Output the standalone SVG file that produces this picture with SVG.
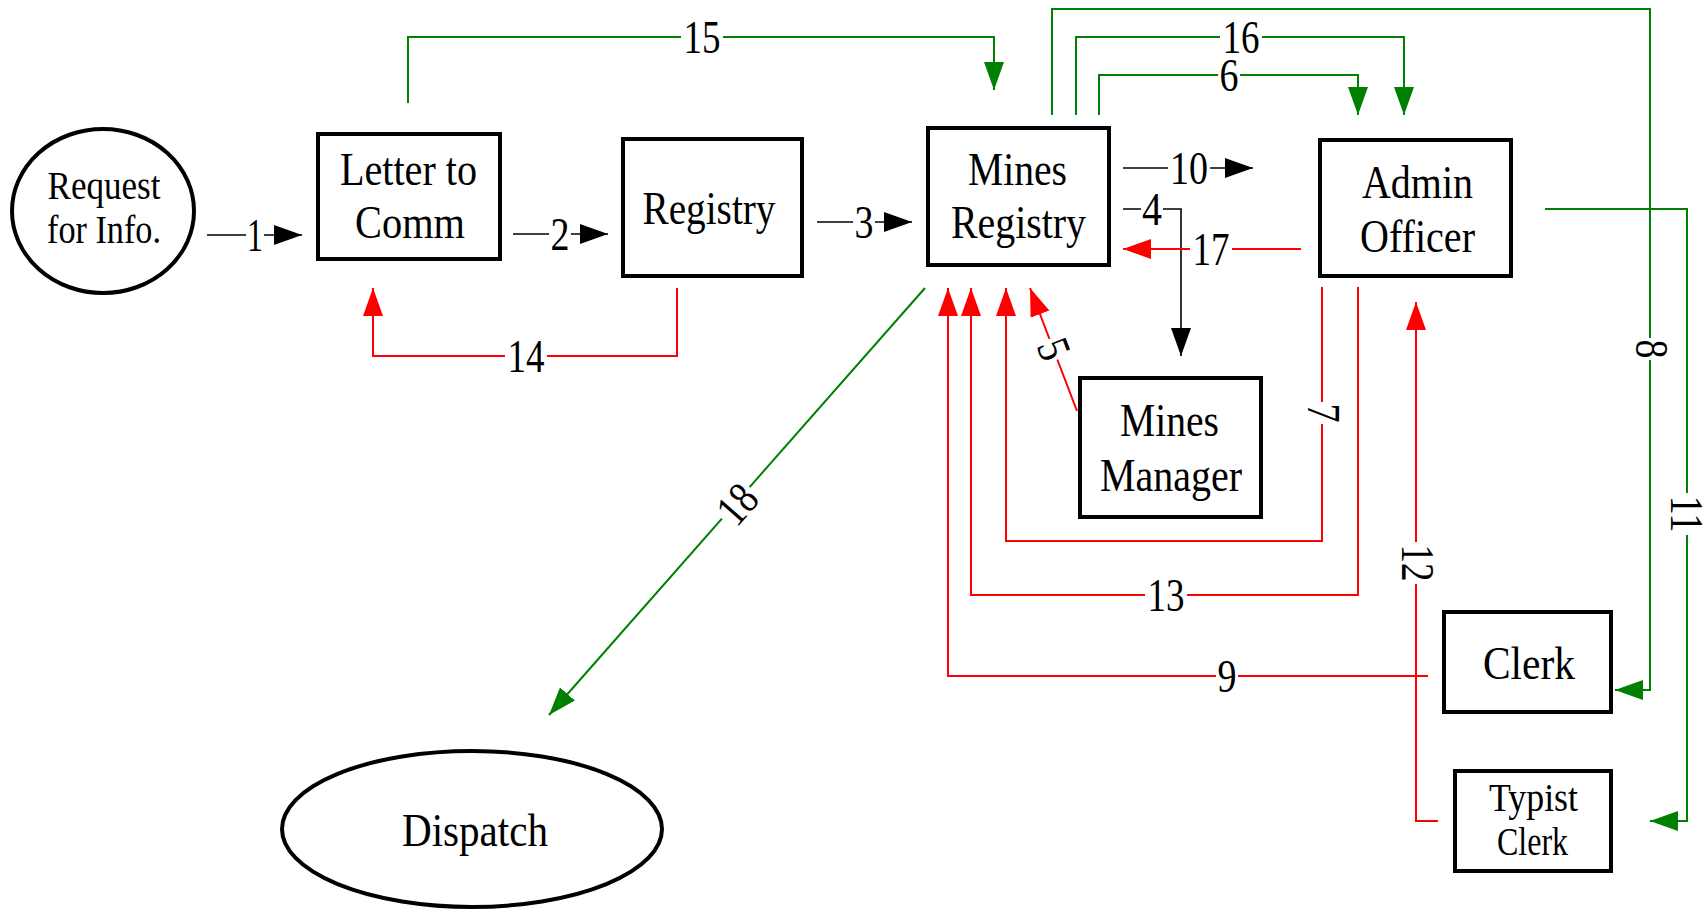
<svg xmlns="http://www.w3.org/2000/svg" width="1705" height="913" viewBox="0 0 1705 913">
  <style>
    .box { fill: #fff; stroke: #000; stroke-width: 4; }
    .t { font-family: "Liberation Serif", "Times New Roman", serif; font-size: 47px; fill: #000; text-anchor: middle; }
    .ts { font-size: 39px; }
    .tm { font-size: 41px; }
    .blk { fill: none; stroke: #000; stroke-width: 1.6; }
    .red { fill: none; stroke: #ff0000; stroke-width: 2; }
    .grn { fill: none; stroke: #008000; stroke-width: 2; }
    .lbl rect { fill: #fff; }
    .lbl text { font-family: "Liberation Serif", "Times New Roman", serif; font-size: 46px; fill: #000; text-anchor: middle; }
  </style>
  <defs>
    <marker id="ab" markerUnits="userSpaceOnUse" markerWidth="30" markerHeight="24" viewBox="0 -12 30 24" refX="28" refY="0" orient="auto">
      <path d="M0,-10 L28,0 L0,10 z" fill="#000"/>
    </marker>
    <marker id="ar" markerUnits="userSpaceOnUse" markerWidth="30" markerHeight="24" viewBox="0 -12 30 24" refX="28" refY="0" orient="auto">
      <path d="M0,-10 L28,0 L0,10 z" fill="#ff0000"/>
    </marker>
    <marker id="ag" markerUnits="userSpaceOnUse" markerWidth="30" markerHeight="24" viewBox="0 -12 30 24" refX="28" refY="0" orient="auto">
      <path d="M0,-10 L28,0 L0,10 z" fill="#008000"/>
    </marker>
  </defs>

  <rect width="1705" height="913" fill="#fff"/>

  <!-- connectors -->
  <g id="connectors">
    <!-- black flows -->
    <path class="blk" d="M207,235 H302" marker-end="url(#ab)"/>
    <path class="blk" d="M513,234 H608" marker-end="url(#ab)"/>
    <path class="blk" d="M817,222 H912" marker-end="url(#ab)"/>
    <path class="blk" d="M1123,168 H1253" marker-end="url(#ab)"/>
    <path class="blk" d="M1123,209 H1181 V356" marker-end="url(#ab)"/>

    <!-- green flows -->
    <path class="grn" d="M408,103 V37 H994 V90" marker-end="url(#ag)"/>
    <path class="grn" d="M1076,115 V37 H1404 V115" marker-end="url(#ag)"/>
    <path class="grn" d="M1099,115 V75 H1358 V115" marker-end="url(#ag)"/>
    <path class="grn" d="M1052,115 V9 H1650 V690 H1615" marker-end="url(#ag)"/>
    <path class="grn" d="M1545,209 H1687 V821 H1650" marker-end="url(#ag)"/>
    <path class="grn" d="M925,288 L549,715" marker-end="url(#ag)"/>

    <!-- red flows -->
    <path class="red" d="M677,288 V356 H373 V288" marker-end="url(#ar)"/>
    <path class="red" d="M1301,249 H1123" marker-end="url(#ar)"/>
    <path class="red" d="M1322,287 V541 H1006 V288" marker-end="url(#ar)"/>
    <path class="red" d="M1358,287 V595 H971 V288" marker-end="url(#ar)"/>
    <path class="red" d="M1428,676 H948 V288" marker-end="url(#ar)"/>
    <path class="red" d="M1438,821 H1416 V302" marker-end="url(#ar)"/>
    <path class="red" d="M1077,411 L1030,288" marker-end="url(#ar)"/>

    <!-- flow numbers -->
    <g class="lbl" transform="translate(255,235)"><rect x="-9" y="-15" width="18" height="30"/><text y="15.5" textLength="16" lengthAdjust="spacingAndGlyphs">1</text></g>
    <g class="lbl" transform="translate(560,234)"><rect x="-11" y="-15" width="22" height="30"/><text y="15.5" textLength="19" lengthAdjust="spacingAndGlyphs">2</text></g>
    <g class="lbl" transform="translate(864,222)"><rect x="-11" y="-15" width="22" height="30"/><text y="15.5" textLength="19" lengthAdjust="spacingAndGlyphs">3</text></g>
    <g class="lbl" transform="translate(1189,168)"><rect x="-21" y="-15" width="42" height="30"/><text y="15.5" textLength="38" lengthAdjust="spacingAndGlyphs">10</text></g>
    <g class="lbl" transform="translate(1152,209)"><rect x="-11" y="-15" width="22" height="30"/><text y="15.5" textLength="20" lengthAdjust="spacingAndGlyphs">4</text></g>
    <g class="lbl" transform="translate(1211,249)"><rect x="-21" y="-15" width="42" height="30"/><text y="15.5" textLength="37" lengthAdjust="spacingAndGlyphs">17</text></g>
    <g class="lbl" transform="translate(702,37)"><rect x="-21" y="-15" width="42" height="30"/><text y="15.5" textLength="37" lengthAdjust="spacingAndGlyphs">15</text></g>
    <g class="lbl" transform="translate(1241,37)"><rect x="-21" y="-15" width="42" height="30"/><text y="15.5" textLength="37" lengthAdjust="spacingAndGlyphs">16</text></g>
    <g class="lbl" transform="translate(1229,75)"><rect x="-11" y="-15" width="22" height="30"/><text y="15.5" textLength="19" lengthAdjust="spacingAndGlyphs">6</text></g>
    <g class="lbl" transform="translate(526,356)"><rect x="-21" y="-15" width="42" height="30"/><text y="15.5" textLength="37" lengthAdjust="spacingAndGlyphs">14</text></g>
    <g class="lbl" transform="translate(1166,595)"><rect x="-21" y="-15" width="42" height="30"/><text y="15.5" textLength="37" lengthAdjust="spacingAndGlyphs">13</text></g>
    <g class="lbl" transform="translate(1227,676)"><rect x="-11" y="-15" width="22" height="30"/><text y="15.5" textLength="19" lengthAdjust="spacingAndGlyphs">9</text></g>
    <g class="lbl" transform="translate(1651,349) rotate(90)"><rect x="-11" y="-15" width="22" height="30"/><text y="15.5" textLength="19" lengthAdjust="spacingAndGlyphs">8</text></g>
    <g class="lbl" transform="translate(1686,514) rotate(90)"><rect x="-21" y="-15" width="42" height="30"/><text y="15.5" textLength="37" lengthAdjust="spacingAndGlyphs">11</text></g>
    <g class="lbl" transform="translate(1417,563) rotate(90)"><rect x="-21" y="-15" width="42" height="30"/><text y="15.5" textLength="37" lengthAdjust="spacingAndGlyphs">12</text></g>
    <g class="lbl" transform="translate(1323,413) rotate(90)"><rect x="-11" y="-15" width="22" height="30"/><text y="15.5" textLength="19" lengthAdjust="spacingAndGlyphs">7</text></g>
    <g class="lbl" transform="translate(1054,349) rotate(69)"><rect x="-11" y="-15" width="22" height="30"/><text y="15.5" textLength="19" lengthAdjust="spacingAndGlyphs">5</text></g>
    <g class="lbl" transform="translate(737,504) rotate(-48.6)"><rect x="-21" y="-15" width="42" height="30"/><text y="15.5" textLength="37" lengthAdjust="spacingAndGlyphs">18</text></g>
  </g>

  <!-- nodes -->
  <g id="request">
    <ellipse class="box" cx="103" cy="211" rx="91" ry="82"/>
    <text class="t ts" x="104" y="199" textLength="113" lengthAdjust="spacingAndGlyphs">Request</text>
    <text class="t ts" x="104" y="243" textLength="114" lengthAdjust="spacingAndGlyphs">for Info.</text>
  </g>
  <g id="letter-to-comm">
    <rect class="box" x="318" y="134" width="182" height="125"/>
    <text class="t" x="408.5" y="185" textLength="137" lengthAdjust="spacingAndGlyphs">Letter to</text>
    <text class="t" x="410" y="238" textLength="110" lengthAdjust="spacingAndGlyphs">Comm</text>
  </g>
  <g id="registry">
    <rect class="box" x="623" y="139" width="179" height="137"/>
    <text class="t" x="709" y="224" textLength="133" lengthAdjust="spacingAndGlyphs">Registry</text>
  </g>
  <g id="mines-registry">
    <rect class="box" x="928" y="128" width="181" height="137"/>
    <text class="t" x="1017.5" y="185" textLength="99" lengthAdjust="spacingAndGlyphs">Mines</text>
    <text class="t" x="1018.5" y="238" textLength="135" lengthAdjust="spacingAndGlyphs">Registry</text>
  </g>
  <g id="admin-officer">
    <rect class="box" x="1320" y="140" width="191" height="136"/>
    <text class="t" x="1417.5" y="198" textLength="111" lengthAdjust="spacingAndGlyphs">Admin</text>
    <text class="t" x="1417.5" y="252" textLength="115" lengthAdjust="spacingAndGlyphs">Officer</text>
  </g>
  <g id="mines-manager">
    <rect class="box" x="1080" y="378" width="181" height="139"/>
    <text class="t" x="1169.5" y="436" textLength="99" lengthAdjust="spacingAndGlyphs">Mines</text>
    <text class="t" x="1171" y="491" textLength="142" lengthAdjust="spacingAndGlyphs">Manager</text>
  </g>
  <g id="clerk">
    <rect class="box" x="1444" y="612" width="167" height="100"/>
    <text class="t" x="1529" y="679" textLength="92" lengthAdjust="spacingAndGlyphs">Clerk</text>
  </g>
  <g id="typist-clerk">
    <rect class="box" x="1455" y="771" width="156" height="100"/>
    <text class="t tm" x="1533.5" y="811" textLength="89" lengthAdjust="spacingAndGlyphs">Typist</text>
    <text class="t tm" x="1532.5" y="855" textLength="71" lengthAdjust="spacingAndGlyphs">Clerk</text>
  </g>
  <g id="dispatch">
    <ellipse class="box" cx="472" cy="829" rx="190" ry="78"/>
    <text class="t" x="475" y="846" textLength="146" lengthAdjust="spacingAndGlyphs">Dispatch</text>
  </g>
</svg>
